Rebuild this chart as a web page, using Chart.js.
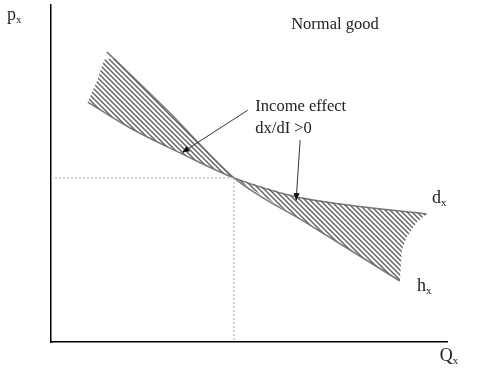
<!DOCTYPE html>
<html><head><meta charset="utf-8">
<script src="https://cdn.jsdelivr.net/npm/chart.js@4/dist/chart.umd.min.js"></script>
<style>html,body{margin:0;padding:0;background:#fff}</style>
</head><body>
<canvas id="c" width="478" height="372"></canvas>
<script>
// Curves (x = quantity, y = price, 0..100 units)
const demandD = [[9.3,71.2],[20,63.5],[32.6,56.1],[46.2,48.7],[62.1,43.0],[78,40.2],[94.9,38.0]];
const compensatedH = [[14.1,86.1],[30,68],[46.2,48.7],[65,35],[88.1,18.1]];
// Hatched income-effect regions (outline)
const hatchLeft = [[13.6,84],[16.2,84],[30,68],[46.2,48.7],[32.6,56.1],[20,63.5],[9.3,71.2],[10.5,74.5],[11.8,78],[12.6,81]];
const hatchRight = [[46.2,48.7],[62.1,43.0],[78,40.2],[94.9,38.0],[92.4,35.6],[89.9,31.2],[88.6,27.3],[88.1,18.1],[65,35],[46.2,48.7]];
const guideH = [[0,48.7],[46.2,48.7]];
const guideV = [[46.2,48.7],[46.2,0]];

const toPts = a => a.map(p => ({x:p[0], y:p[1]}));

function hatch(){
  const s = 5, c = document.createElement('canvas');
  c.width = s; c.height = s;
  const g = c.getContext('2d');
  g.strokeStyle = '#666'; g.lineWidth = 1.5;
  g.beginPath();
  g.moveTo(-1,-1); g.lineTo(s+1,s+1);
  g.moveTo(-1,s-1); g.lineTo(1,s+1);
  g.moveTo(s-1,-1); g.lineTo(s+1,1);
  g.stroke();
  return document.getElementById('c').getContext('2d').createPattern(c,'repeat');
}
const pat = hatch();

const SERIF = '"Liberation Serif", "DejaVu Serif", serif';

const annot = {
  id:'annot',
  afterDraw(chart){
    const {ctx, scales:{x, y}} = chart;
    const X = v => x.getPixelForValue(v), Y = v => y.getPixelForValue(v);
    ctx.save();
    ctx.fillStyle = '#222';
    ctx.textBaseline = 'middle';
    function sub(main, s, dx, dy){
      ctx.font = '18px ' + SERIF; ctx.textAlign = 'left';
      const px = X(dx), py = Y(dy);
      ctx.fillText(main, px, py);
      const w = ctx.measureText(main).width;
      ctx.font = '11px ' + SERIF;
      ctx.fillText(s, px + w, py + 5);
    }
    sub('p','x',-11.1,96.9);
    sub('Q','x',98.2,-4.3);
    sub('d','x',96.2,42.6);
    sub('h','x',92.4,16.6);
    ctx.font = '16.5px ' + SERIF;
    ctx.textAlign = 'center';
    ctx.fillText('Normal good', X(71.7), Y(94.1));
    ctx.textAlign = 'left';
    ctx.fillText('Income effect', X(51.6), Y(69.7));
    ctx.fillText('dx/dI >0', X(51.6), Y(63.4));
    function arrow(x1,y1,x2,y2){
      const a = X(x1), b = Y(y1), c = X(x2), d = Y(y2);
      ctx.strokeStyle = '#333'; ctx.lineWidth = 1;
      ctx.beginPath(); ctx.moveTo(a,b); ctx.lineTo(c,d); ctx.stroke();
      const ang = Math.atan2(d-b, c-a), L = 8, W = 0.4;
      ctx.fillStyle = '#111';
      ctx.beginPath();
      ctx.moveTo(c,d);
      ctx.lineTo(c - L*Math.cos(ang-W), d - L*Math.sin(ang-W));
      ctx.lineTo(c - L*Math.cos(ang+W), d - L*Math.sin(ang+W));
      ctx.closePath(); ctx.fill();
    }
    arrow(49.7,68.8,33.1,56.2);
    arrow(62.9,59.9,61.9,42.0);
    ctx.restore();
  }
};

new Chart(document.getElementById('c'), {
  type:'scatter',
  data:{datasets:[
    {data:toPts(hatchLeft), showLine:true, fill:'shape', backgroundColor:pat, borderWidth:0, borderColor:'rgba(0,0,0,0)', pointRadius:0, tension:0},
    {data:toPts(hatchRight), showLine:true, fill:'shape', backgroundColor:pat, borderWidth:0, borderColor:'rgba(0,0,0,0)', pointRadius:0, tension:0},
    {data:toPts(guideH), showLine:true, borderColor:'#bdbdbd', borderWidth:1.3, borderDash:[2,2], pointRadius:0},
    {data:toPts(guideV), showLine:true, borderColor:'#bdbdbd', borderWidth:1.3, borderDash:[2,2], pointRadius:0},
    {data:toPts(demandD), showLine:true, borderColor:'#7a7a7a', borderWidth:1.5, pointRadius:0, tension:0.3, cubicInterpolationMode:'monotone'},
    {data:toPts(compensatedH), showLine:true, borderColor:'#7a7a7a', borderWidth:1.5, pointRadius:0, tension:0.3, cubicInterpolationMode:'monotone'}
  ]},
  options:{
    responsive:false, animation:false, events:[],
    layout:{padding:{left:51, right:31, top:5, bottom:30}},
    plugins:{legend:{display:false}, tooltip:{enabled:false}},
    scales:{
      x:{type:'linear', min:0, max:100, grid:{display:false, drawTicks:false}, ticks:{display:false}, border:{display:true, color:'#000', width:1.5}},
      y:{type:'linear', min:0, max:100, grid:{display:false, drawTicks:false}, ticks:{display:false}, border:{display:true, color:'#000', width:1.5}}
    }
  },
  plugins:[annot]
});
</script>
</body></html>
